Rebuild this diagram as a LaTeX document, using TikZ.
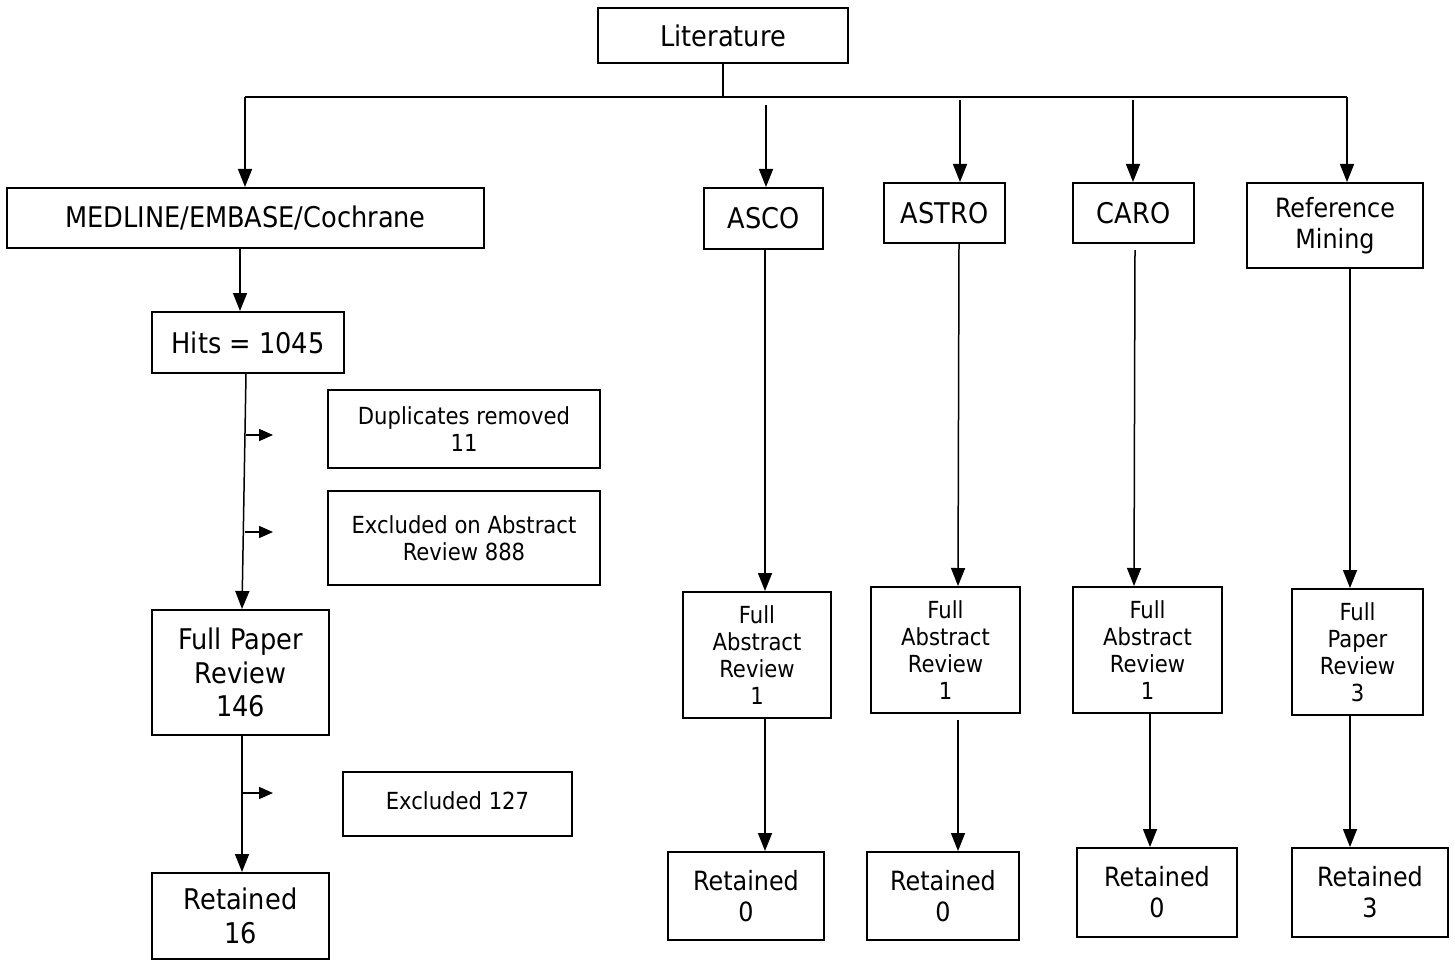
\documentclass[tikz,border=0pt]{standalone}
\usepackage{fontspec}
\setmainfont{DejaVu Sans Condensed}
\usetikzlibrary{arrows.meta}
\tikzset{
  box/.style={draw=black, line width=2pt, inner sep=0pt, align=center, anchor=center},
  bigtxt/.style={font=\fontsize{28.5}{33.5}\selectfont},
  midtxt/.style={font=\fontsize{26.5}{31}\selectfont},
  smltxt/.style={font=\fontsize{23.5}{27}\selectfont},
  conn/.style={draw=black, line width=1.5pt},
  arr/.style={conn, -{Triangle[length=18pt,width=14pt]}},
  sarr/.style={conn, -{Triangle[length=14pt,width=12pt]}}
}
\begin{document}
\begin{tikzpicture}[x=1pt,y=-1pt]
\useasboundingbox (0,0) rectangle (1455,960);
% nodes
\node[box,bigtxt,minimum width=250pt,minimum height=55pt] (lit) at (723,35.5) {Literature};
\node[box,bigtxt,minimum width=477pt,minimum height=60pt] (med) at (245.5,218) {MEDLINE/EMBASE/Cochrane};
\node[box,bigtxt,minimum width=119pt,minimum height=61pt] (asco) at (763.5,218.5) {ASCO};
\node[box,bigtxt,minimum width=121pt,minimum height=60pt] (astro) at (944.5,213) {ASTRO};
\node[box,bigtxt,minimum width=121pt,minimum height=60pt] (caro) at (1133.5,213) {CARO};
\node[box,midtxt,minimum width=176pt,minimum height=85pt] (ref) at (1335,225.5) {Reference\\Mining};
\node[box,bigtxt,minimum width=192pt,minimum height=61pt] (hits) at (248,342.5) {Hits = 1045};
\node[box,smltxt,minimum width=272pt,minimum height=78pt] (dup) at (464,429) {Duplicates removed\\11};
\node[box,smltxt,minimum width=272pt,minimum height=94pt] (exab) at (464,538) {Excluded on Abstract\\Review 888};
\node[box,bigtxt,minimum width=177pt,minimum height=125pt] (fpr) at (240.5,672.5) {Full Paper\\Review\\146};
\node[box,smltxt,minimum width=229pt,minimum height=64pt] (exc) at (457.5,804) {\raisebox{6pt}{Excluded 127}};
\node[box,bigtxt,minimum width=177pt,minimum height=86pt] (ret) at (240.5,916) {Retained\\16};
\node[box,smltxt,minimum width=148pt,minimum height=126pt] (ascofull) at (757,655) {Full\\Abstract\\Review\\1};
\node[box,smltxt,minimum width=149pt,minimum height=126pt] (astrofull) at (945.5,650) {Full\\Abstract\\Review\\1};
\node[box,smltxt,minimum width=149pt,minimum height=126pt] (carofull) at (1147.5,650) {Full\\Abstract\\Review\\1};
\node[box,smltxt,minimum width=131pt,minimum height=126pt] (reffull) at (1357.5,652) {Full\\Paper\\Review\\3};
\node[box,midtxt,minimum width=156pt,minimum height=88pt] (ascoret) at (746,896) {Retained\\0};
\node[box,midtxt,minimum width=152pt,minimum height=88pt] (astroret) at (943,896) {Retained\\0};
\node[box,midtxt,minimum width=160pt,minimum height=89pt] (caroret) at (1157,892.5) {Retained\\0};
\node[box,midtxt,minimum width=156pt,minimum height=89pt] (refret) at (1370,892.5) {Retained\\3};
% top tree
\coordinate (bus) at (723,97);
\coordinate (busl) at (245,97);
\coordinate (busr) at (1347,97);
\draw[conn] (lit.south) -- (bus);
\draw[conn] (busl) -- (busr);
\draw[arr] (busl) -- (245,0 |- med.north);
\draw[arr] (766,105) coordinate (ta) -- (ta |- asco.north);
\draw[arr] (960,100) coordinate (tb) -- (tb |- astro.north);
\draw[arr] (1133,100) coordinate (tc) -- (tc |- caro.north);
\draw[arr] (busr) -- (busr |- ref.north);
% left column
\draw[arr] (240,0 |- med.south) -- (240,0 |- hits.north);
\draw[arr] (246,0 |- hits.south) -- (242,0 |- fpr.north);
\coordinate (s1) at (246,435);
\coordinate (s2) at (245,532);
\coordinate (s3) at (243,793);
\draw[sarr] (s1) -- ++(27,0);
\draw[sarr] (s2) -- ++(28,0);
\draw[sarr] (s3) -- ++(30,0);
\draw[arr] (242,0 |- fpr.south) -- (242,0 |- ret.north);
% right columns
\draw[arr] (765,0 |- asco.south) -- (765,0 |- ascofull.north);
\draw[arr] (765,0 |- ascofull.south) -- (765,0 |- ascoret.north);
\draw[arr] (959,0 |- astro.south) -- (958,0 |- astrofull.north);
\draw[arr] (958,720) -- (958,0 |- astroret.north);
\draw[arr] (1135,250) -- (1134,0 |- carofull.north);
\draw[arr] (1150,0 |- carofull.south) -- (1150,0 |- caroret.north);
\draw[arr] (1350,0 |- ref.south) -- (1350,0 |- reffull.north);
\draw[arr] (1350,0 |- reffull.south) -- (1350,0 |- refret.north);
\end{tikzpicture}
\end{document}
